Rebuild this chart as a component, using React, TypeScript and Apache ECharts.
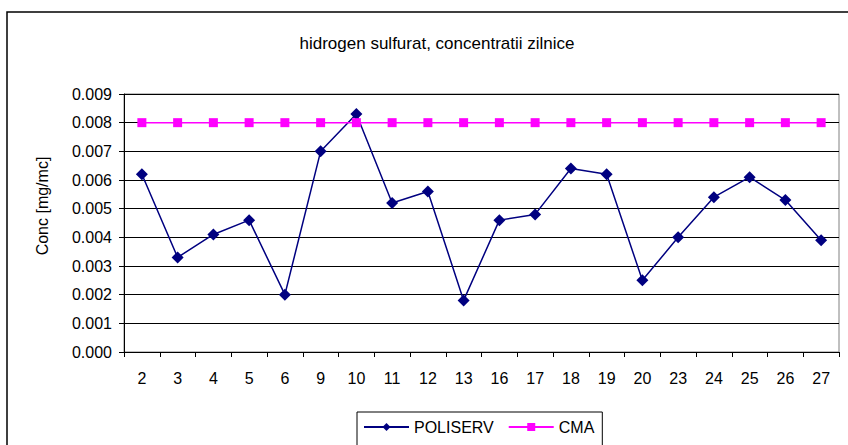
import React, { useEffect, useRef } from "react";
import * as echarts from "echarts";

const titleText = "hidrogen sulfurat, concentratii zilnice";
const yAxisName = "Conc [mg/mc]";
const categories = ["2", "3", "4", "5", "6", "9", "10", "11", "12", "13", "16", "17", "18", "19", "20", "23", "24", "25", "26", "27"];
const poliserv = [0.0062, 0.0033, 0.0041, 0.0046, 0.002, 0.007, 0.0083, 0.0052, 0.0056, 0.0018, 0.0046, 0.0048, 0.0064, 0.0062, 0.0025, 0.004, 0.0054, 0.0061, 0.0053, 0.0039];
const cma = [0.008, 0.008, 0.008, 0.008, 0.008, 0.008, 0.008, 0.008, 0.008, 0.008, 0.008, 0.008, 0.008, 0.008, 0.008, 0.008, 0.008, 0.008, 0.008, 0.008];

const FONT = "'Liberation Sans', Arial, sans-serif";

export default function App() {
  const ref = useRef<HTMLDivElement>(null);
  useEffect(() => {
    document.body.style.margin = "0";
    const chart = echarts.init(ref.current!, null, { renderer: "svg" });
    chart.setOption({
      animation: false,
      backgroundColor: "#ffffff",
      textStyle: { fontFamily: FONT },
      title: {
        text: titleText,
        left: 432,
        top: 30,
        textAlign: "center",
        textStyle: { fontSize: 17, fontWeight: "normal", color: "#000", fontFamily: FONT },
      },
      graphic: [
        {
          type: "rect",
          shape: { x: 7, y: 12, width: 1000, height: 600 },
          style: { fill: "none", stroke: "#000", lineWidth: 1.5 },
          silent: true,
        },
        {
          type: "text",
          x: 42,
          y: 206,
          rotation: Math.PI / 2,
          style: {
            text: yAxisName,
            fontSize: 16,
            fontFamily: FONT,
            fill: "#000",
            align: "center",
            verticalAlign: "middle",
          },
        },
      ],
      legend: {
        left: 357,
        top: 412,
        width: 240,
        padding: [7, 8, 14, 6],
        borderColor: "#000",
        borderWidth: 1,
        borderRadius: 0,
        itemWidth: 45,
        itemHeight: 10,
        itemGap: 14,
        textStyle: { fontSize: 16, color: "#000", fontFamily: FONT },
        data: ["POLISERV", "CMA"],
      },
      grid: {
        left: 124,
        top: 94,
        width: 715,
        height: 258,
        show: true,
        borderColor: "#808080",
        borderWidth: 1,
        containLabel: false,
      },
      xAxis: {
        type: "category",
        data: categories,
        boundaryGap: true,
        axisLine: { lineStyle: { color: "#000", width: 1 } },
        axisTick: { show: true, length: 5, lineStyle: { color: "#000" }, alignWithLabel: false },
        axisLabel: { fontSize: 16, color: "#000", margin: 18, fontFamily: FONT },
        splitLine: { show: false },
      },
      yAxis: {
        type: "value",
        min: 0,
        max: 0.009,
        interval: 0.001,
        axisLine: { show: true, lineStyle: { color: "#000", width: 1 } },
        axisTick: { show: true, length: 5, lineStyle: { color: "#000" } },
        axisLabel: {
          fontSize: 16,
          color: "#000",
          margin: 12,
          fontFamily: FONT,
          formatter: (v: number) => v.toFixed(3),
        },
        splitLine: { show: true, lineStyle: { color: "#000", width: 1 } },
      },
      series: [
        {
          name: "POLISERV",
          type: "line",
          data: poliserv,
          symbol: "diamond",
          symbolSize: 12,
          itemStyle: { color: "#000080" },
          lineStyle: { color: "#000080", width: 1.5 },
          z: 3,
        },
        {
          name: "CMA",
          type: "line",
          data: cma,
          symbol: "rect",
          symbolSize: 9,
          itemStyle: { color: "#FF00FF" },
          lineStyle: { color: "#FF00FF", width: 1.5 },
          z: 4,
        },
      ],
    });
    return () => chart.dispose();
  }, []);
  return <div ref={ref} style={{ width: 848, height: 445 }} />;
}
